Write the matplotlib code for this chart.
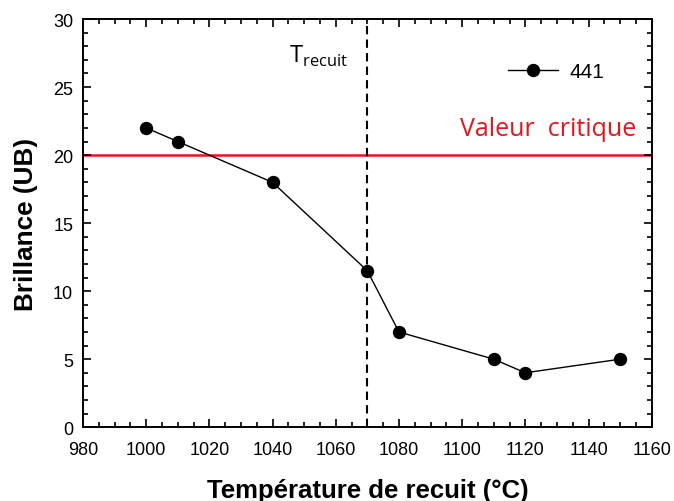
import matplotlib.pyplot as plt
from matplotlib.ticker import MultipleLocator

plt.rcParams['font.family'] = ['Liberation Sans', 'DejaVu Sans']
plt.rcParams['mathtext.fontset'] = 'custom'
plt.rcParams['mathtext.rm'] = 'Open Sans'

# data
temperature = [1000, 1010, 1040, 1070, 1080, 1110, 1120, 1150]
brillance = [22, 21, 18, 11.5, 7, 5, 4, 5]
serie_label = "441"
valeur_critique = 20
t_recuit = 1070

fig = plt.figure(figsize=(6.74, 5.02), dpi=100)
ax = fig.add_axes([0.123, 0.147, 0.844, 0.813])

ax.axhline(valeur_critique, color='#e8141c', lw=1.8, zorder=1)
ax.axvline(t_recuit, color='black', lw=1.5, ls=(0, (4, 2.5)), zorder=1)
ax.plot(temperature, brillance, '-o', color='black', lw=1, markersize=8.6, label=serie_label, zorder=3)

ax.set_xlim(980, 1160)
ax.set_ylim(0, 30)
ax.xaxis.set_major_locator(MultipleLocator(20))
ax.xaxis.set_minor_locator(MultipleLocator(5))
ax.yaxis.set_major_locator(MultipleLocator(5))
ax.yaxis.set_minor_locator(MultipleLocator(1))
ax.tick_params(which='both', direction='in', top=True, right=True, labelsize=13, width=1.2)
ax.tick_params(which='major', length=6, pad=7)
ax.tick_params(axis='x', which='major', pad=10)
ax.tick_params(which='minor', length=3.5)
for sp in ax.spines.values():
    sp.set_linewidth(1.4)

ax.set_xlabel("Température de recuit (°C)", fontsize=18.5, fontweight='bold', labelpad=14)
ax.set_ylabel("Brillance (UB)", fontsize=18.8, fontweight='bold', labelpad=11)

ax.text(1155, valeur_critique + 1.05, "Valeur  critique", color='#e8141c', fontsize=18,
        family='Open Sans', ha='right', va='bottom')
ax.text(1064, 27.3, r"T$_{\mathrm{recuit}}$", fontsize=17, family='Open Sans', ha='right', va='center')

leg = ax.legend(loc='upper right', bbox_to_anchor=(0.95, 0.94), frameon=False, fontsize=15,
                handlelength=2.4, handletextpad=0.55)

fig.savefig('out.png', dpi=100)
